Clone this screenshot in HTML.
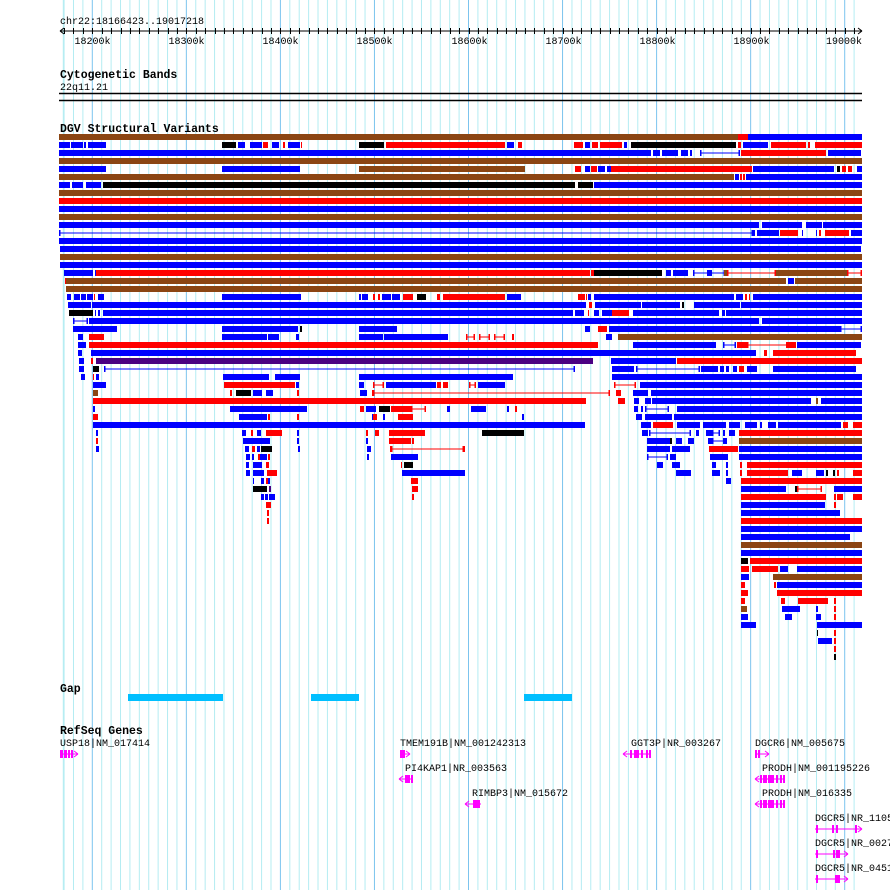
<!DOCTYPE html>
<html><head><meta charset="utf-8"><style>
html,body{margin:0;padding:0;background:#fff;width:890px;height:890px;overflow:hidden}
svg{display:block}
text{font-family:"Liberation Mono","DejaVu Sans Mono",monospace;font-size:10px;fill:#000}
.t{font-weight:bold;font-size:11.5px}
</style></head><body>
<svg id="s" width="890" height="890" xmlns="http://www.w3.org/2000/svg"></svg>
<script>
var s=document.getElementById('s'),h='';
function R(x,y,w,ht,c){h+='<rect x="'+x+'" y="'+y+'" width="'+w+'" height="'+ht+'" fill="'+c+'"/>';}
function L(x1,y1,x2,y2,c,w){h+='<line x1="'+x1+'" y1="'+y1+'" x2="'+x2+'" y2="'+y2+'" stroke="'+c+'" stroke-width="'+(w||1)+'"/>';}
function T(x,y,t,c){h+='<text x="'+x+'" y="'+y+'"'+(c?' class="'+c+'"':'')+'>'+t+'</text>';}
// grid
for(var kb=18170;kb<=19010;kb+=10){var x=92.3+(kb-18200)*0.9405;if(x<58||x>856)continue;
 var maj=(kb%100===0);L(x,0,x,890,maj?'#7cc4ee':'#b4ecf2',1);}
L(63.3,0,63.3,890,'#b4ecf2',1);
// axis
T(60,24,'chr22:18166423..19017218');
L(60,31,862,31,'#000',1);
L(60,31,64,28,'#000');L(60,31,64,34,'#000');L(862,31,858,28,'#000');L(862,31,858,34,'#000');
for(var kb=18170;kb<=19010;kb+=10){var x=Math.round(92.3+(kb-18200)*0.9405)+0.5;if(x<62||x>860)continue;
 L(x,28,x,34,'#000');
 if(kb%100===0){var lx=Math.min(x-18,826);T(lx,44,kb+'k');}}
// cyto
T(60,78,'Cytogenetic Bands','t');T(60,90,'22q11.21');
L(59,93.5,862,93.5,'#000',1.5);L(59,100.5,862,100.5,'#000',1.5);
T(60,132,'DGV Structural Variants','t');
var C={b:'#0000ff',r:'#ff0000',n:'#8b4513',k:'#000000',p:'#4b0082'};
var rows=[
'59-738n 738-748r 748-862b',
'59-70b 71-83b 84-86b 88-106b 222-236k 238-245b 250-262b 263-268r 272-279b 283-285r 288-300b 301-302r 359-384k 386-505r 507-514b 518-522r 574-583r 585-590b 592-598r 600-622r 624-627b 631-736k 738-741r 743-748b 748-768b 771-806r 808-810r 815-862r',
'59-651b 653-660b 662-678b 681-688b 690-692b 700-740l 741-826r 828-861b',
'59-862n',
'59-106b 222-300b 359-525n 575-581r 585-590b 591-597r 598-605b 607-612b 611-752r 753-834b 837-840k 842-846r 848-852r 857-862b',
'59-734n 735-739b 740-742r 743-745r 746-749b 749-862b',
'59-70b 72-83b 86-101b 103-575k 578-593k 594-600b 600-605b 604-862b',
'59-862n','59-862r','59-862b','59-862n',
'59-759b 762-802b 806-822b 823-862b',
'59-753l 753-755b 757-779b 780-798r 802-803b 816-817b 819-821r 825-849r 851-862b',
'59-862b','60-861b','60-862n','60-862b',
'64-93b 95-96b 96-590r 591-594r 594-662k 666-671b 673-688b 693-725l 707-712b 724-727n 727-776m 776-847n 847-862m',
'65-66r 66-786n 788-794b 795-862n',
'66-862n',
'67-71b 74-80b 81-86b 87-93b 94-95r 98-104b 222-300b 300-301b 359-361b 362-368b 373-375r 378-380r 382-391b 392-400b 403-413r 417-426k 437-440r 443-505r 507-521b 578-585r 586-587r 588-591b 594-734b 736-743b 745-747r 749-750r 753-862b',
'68-91b 92-586b 589-592r 595-641b 642-680b 682-684k 694-740b 741-862b',
'69-93k 95-96b 98-100b 103-573b 575-578b 578-584b 588-589r 594-599b 602-612b 612-629r 633-719b 722-725b 726-862b',
'73-88l 89-759b 762-862b',
'73-117b 222-298b 300-302k 359-397b 585-590b 598-607r 609-689b 689-840b 840-862l',
'78-83b 89-104r 222-267b 268-279b 296-299b 359-383b 384-448b 466-475m 479-490m 494-505m 512-514r 606-612b 618-862n',
'78-86b 89-598r 633-716b 723-736l 737-747r 747-790m 786-796r 797-861b',
'78-82b 91-756b 764-767r 773-856r',
'79-84b 91-93r 96-593p 611-676b 677-862r',
'79-84b 93-99k 104-575l 612-634b 636-700l 701-718b 720-724b 726-729b 733-737b 739-744r 747-757b 773-856b',
'81-85b 93-94r 96-99b 223-269b 275-300b 359-513b 612-620b 619-862b',
'93-106b 224-295r 296-299b 359-364b 373-384m 386-436b 437-441r 443-448r 469-476m 478-505b 614-636m 640-862b',
'93-98n 230-232r 236-251k 253-262b 266-273b 297-299r 360-367b 372-374r 373-610m 616-621r 633-648b 651-862b',
'93-586r 618-625r 634-639b 645-651b 652-811b 816-818n 821-862b',
'93-95b 230-307b 360-364r 366-376b 379-390k 391-411r 411-426m 447-450b 471-486b 507-509b 515-517r 634-638b 641-643b 645-669l 677-862b',
'93-98r 239-267b 268-270r 297-299r 372-373b 373-377r 383-385b 398-413r 522-524b 636-642b 645-672b 674-862b',
'93-585b 641-651b 653-673r 677-700b 703-716b 716-726b 729-740b 745-757b 760-762b 768-776b 778-841b 843-848r 853-862r',
'96-98b 242-246b 251-253r 257-261b 266-282r 297-299b 366-368r 375-379r 389-425r 482-524k 642-648b 649-691l 696-699b 706-712b 712-720l 723-725b 729-735b 739-862r',
'96-98r 243-270b 297-299b 366-368b 389-397r 396-411r 412-414r 647-662b 662-670b 670-672k 676-682b 688-694b 708-712b 712-727l 723-727b 739-862n',
'96-99b 245-249b 252-255r 257-260b 261-272k 298-300b 367-371b 390-391r 391-464m 463-465r 647-670b 672-690b 709-738r 739-862b',
'246-250b 252-254b 258-260r 260-267b 268-270r 367-369b 391-418b 647-668l 670-676b 710-728b 739-862b',
'246-249b 253-262b 266-269r 401-402r 404-413k 657-663b 672-680b 712-716b 726-728b 740-742r 747-862r',
'246-250b 253-260b 260-264b 267-277r 402-465b 676-691b 712-720b 726-728b 740-742r 747-788r 792-802b 816-824b 826-828k 833-835k 837-839r 853-862r',
'253-254b 261-264b 266-268r 268-270b 411-418r 726-731b 741-862r',
'253-267k 269-271p 412-418r 741-786b 795-797k 797-822m 834-862b',
'261-264b 265-268b 269-275b 412-414r 741-826r 834-836r 837-843r 853-862r',
'266-271r 741-825b 834-836r',
'267-269r 741-840b',
'267-269r 741-862r',
'741-862b','741-850b','741-862n','741-862b',
'741-748k 750-862r',
'741-749r 752-778r 780-788b 797-862b',
'741-749b 773-862n',
'741-745r 774-776r 777-862b',
'741-748r 777-862r',
'741-745r 781-785r 798-828r 834-836r',
'741-747n 782-800b 816-818b 834-836r',
'741-748b 785-792b 816-821b 834-836r',
'741-756b 817-862b',
'817-818k 834-836r',
'818-832b 834-836r',
'834-836r','834-836k'];
rows.forEach(function(r,i){var y=134+8*i;r.split(' ').forEach(function(sg){
 var m=sg.match(/(\d+)-(\d+)(\w)/);var a=+m[1],b=+m[2],c=m[3];
 if(c==='l'||c==='m'){var col=c==='l'?C.b:C.r;L(a,y+3,b,y+3,col,1);R(a,y,1.5,6,col);R(b-1.5,y,1.5,6,col);}
 else R(a,y,b-a,6,C[c]);});});
// Gap
T(60,692,'Gap','t');
R(128,694,95,7,'#00bfff');R(311,694,48,7,'#00bfff');R(524,694,48,7,'#00bfff');
// RefSeq
T(60,734,'RefSeq Genes','t');
var M='#ff00ff';
function gene(lbl,lx,ty,x1,x2,dir,blocks){T(lx,ty,lbl);var gy=ty+4;L(x1,gy+4,x2,gy+4,M,1);
 blocks.forEach(function(b){R(b[0],gy,b[1],8,M);});
 if(dir>0){L(x2-4,gy+1,x2,gy+4,M);L(x2-4,gy+7,x2,gy+4,M);}else{L(x1+4,gy+1,x1,gy+4,M);L(x1+4,gy+7,x1,gy+4,M);}}
gene('USP18|NM_017414',60,746,60,78,1,[[60,3],[64,3],[68,2],[71,2]]);
gene('TMEM191B|NM_001242313',400,746,400,410,1,[[400,5]]);
gene('GGT3P|NR_003267',631,746,623,651,-1,[[630,2],[634,5],[641,2],[646,2],[649,2]]);
gene('DGCR6|NM_005675',755,746,755,769,1,[[755,2],[758,2]]);
gene('PI4KAP1|NR_003563',405,771,399,413,-1,[[405,5],[411,2]]);
gene('PRODH|NM_001195226',762,771,755,785,-1,[[760,2],[763,4],[768,6],[776,2],[780,2],[783,2]]);
gene('RIMBP3|NM_015672',472,796,465,481,-1,[[473,7]]);
gene('PRODH|NM_016335',762,796,755,785,-1,[[760,2],[763,4],[768,6],[776,2],[780,2],[783,2]]);
gene('DGCR5|NR_110533',815,821,815,862,1,[[816,2],[832,2],[836,2],[855,2]]);
gene('DGCR5|NR_002733',815,846,815,848,1,[[816,2],[833,2],[836,4]]);
gene('DGCR5|NR_045123',815,871,815,848,1,[[816,2],[835,5]]);
s.innerHTML=h;
</script>
</body></html>
